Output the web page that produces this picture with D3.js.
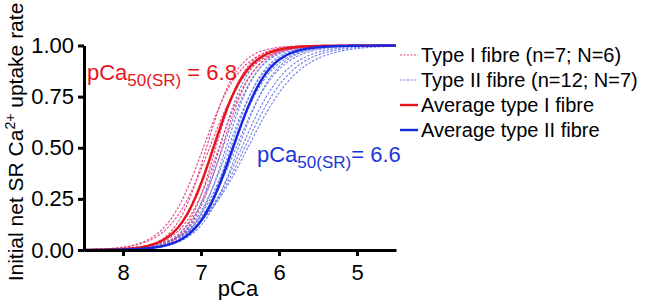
<!DOCTYPE html>
<html><head><meta charset="utf-8">
<script src="https://cdn.jsdelivr.net/npm/d3@7"></script>
<style>body{margin:0;background:#fff}svg{display:block;font-family:"Liberation Sans",Arial,sans-serif}</style>
</head><body><svg id="c" width="656" height="300"></svg>
<script>
// Hill-fit parameters (pCa50 and Hill coefficient per fibre)
const typeI_pCa50 = [6.97, 6.93, 6.89, 6.85, 6.81, 6.77, 6.73];
const typeI_nH    = [1.8, 2.2, 1.7, 2.0, 2.3, 1.9, 2.1];
const typeII_pCa50 = [6.76, 6.72, 6.68, 6.65, 6.62, 6.60, 6.58, 6.55, 6.52, 6.48, 6.44, 6.40];
const typeII_nH    = [2.2, 1.9, 2.1, 1.8, 2.0, 1.7, 1.9, 1.6, 1.8, 1.5, 1.4, 1.3];
const avg_pCa50 = [6.84, 6.59];
const avg_nH = [2.0, 1.9];
const xTicks = [8, 7, 6, 5];
const yTicks = [0, 0.25, 0.5, 0.75, 1.0];
const legendLabels = ["Type I fibre (n=7; N=6)", "Type II fibre (n=12; N=7)", "Average type I fibre", "Average type II fibre"];

const svg = d3.select("#c");
const x = d3.scaleLinear().domain([8.5, 4.5]).range([84, 396]);
const y = d3.scaleLinear().domain([0, 1]).range([250, 45.5]);
const hill = (p, p50, n) => 1 / (1 + Math.pow(10, n * (p - p50)));
const grid = d3.range(8.5, 4.49, -0.02);
const line = d3.line().x(d => x(d[0])).y(d => y(d[1])).curve(d3.curveBasis);
const curve = (p50, n) => grid.map(p => [p, hill(p, p50, n)]);

const cI = "#e8457f", cII = "#6f7ee8", cAI = "#e8141c", cAII = "#1428e0";
const g = svg.append("g");
typeII_pCa50.forEach((p, i) => g.append("path").attr("d", line(curve(p, typeII_nH[i])))
  .attr("fill", "none").attr("stroke", cII).attr("stroke-width", 1.1).attr("stroke-dasharray", "2.5,1.5"));
typeI_pCa50.forEach((p, i) => g.append("path").attr("d", line(curve(p, typeI_nH[i])))
  .attr("fill", "none").attr("stroke", cI).attr("stroke-width", 1.1).attr("stroke-dasharray", "2.5,1.5"));
g.append("path").attr("d", line(curve(avg_pCa50[0], avg_nH[0]))).attr("fill", "none").attr("stroke", cAI).attr("stroke-width", 2.4);
g.append("path").attr("d", line(curve(avg_pCa50[1], avg_nH[1]))).attr("fill", "none").attr("stroke", cAII).attr("stroke-width", 2.4);

// axes
const xa = svg.append("g").attr("transform", "translate(0,250)")
  .call(d3.axisBottom(x).tickValues(xTicks).tickFormat(d3.format("d")).tickSize(6).tickSizeOuter(0));
const ya = svg.append("g").attr("transform", "translate(84,0)")
  .call(d3.axisLeft(y).tickValues(yTicks).tickFormat(d3.format(".2f")).tickSize(6).tickSizeOuter(0));
[xa, ya].forEach(a => {
  a.select(".domain").attr("stroke", "#000").attr("stroke-width", 3);
  a.selectAll(".tick line").attr("stroke", "#000").attr("stroke-width", 3);
  a.selectAll(".tick text").attr("font-size", 22).attr("fill", "#000").attr("font-family", "Liberation Sans, Arial, sans-serif");
});
xa.selectAll(".tick text").attr("dy", "0.95em");
ya.selectAll(".tick text").attr("dx", "-1px");

svg.append("text").attr("x", 238).attr("y", 296).attr("text-anchor", "middle").attr("font-size", 22).text("pCa");
const yl = svg.append("text").attr("transform", "translate(23,142) rotate(-90)").attr("text-anchor", "middle").attr("font-size", 21);
yl.append("tspan").text("Initial net SR Ca");
yl.append("tspan").attr("font-size", 14).attr("dy", -8).text("2+");
yl.append("tspan").attr("dy", 8).text(" uptake rate");

// annotations
function ann(xp, yp, col, val, gap) {
  const t = svg.append("text").attr("x", xp).attr("y", yp).attr("fill", col).attr("font-size", 22);
  t.append("tspan").text("pCa");
  t.append("tspan").attr("font-size", 17).attr("dy", 6).text("50(SR)");
  t.append("tspan").attr("dy", -6).text(gap + "= " + val);
}
ann(87, 80, cAI, "6.8", " ");
ann(257, 162, "#1a35d8", "6.6", "");

// legend
const lg = svg.append("g");
const lcols = [cI, cII, cAI, cAII];
legendLabels.forEach((t, i) => {
  const yy = 55 + i * 25;
  lg.append("line").attr("x1", 400).attr("x2", 418).attr("y1", yy).attr("y2", yy)
    .attr("stroke", lcols[i]).attr("stroke-width", i < 2 ? 1.1 : 2.4).attr("stroke-dasharray", i < 2 ? "2,1.5" : null);
  lg.append("text").attr("x", 421).attr("y", yy + 7).attr("font-size", 20).text(t);
});
</script></body></html>
